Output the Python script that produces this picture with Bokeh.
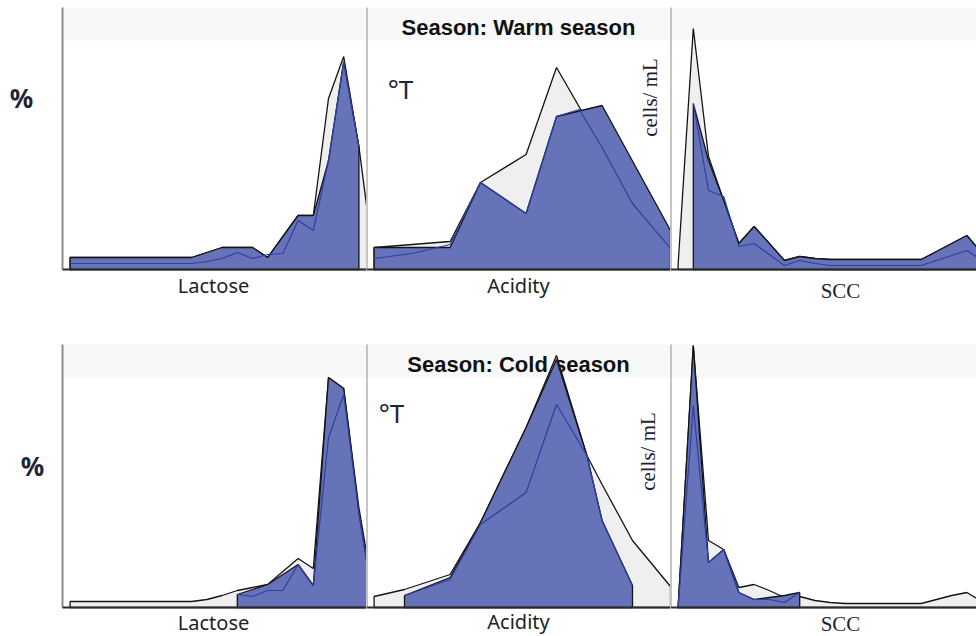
import math
from bokeh.plotting import figure
from bokeh.layouts import column, row
from bokeh.models import Label, BoxAnnotation, Range1d
from bokeh.embed import file_html
from bokeh.resources import INLINE

# ---------------- data ----------------
# Lactose (bins)
lactose_bins_all = list(range(21))
warm_lactose_all = [1.2, 1.2, 1.2, 1.2, 1.2, 1.2, 1.2, 1.2, 1.2, 1.7, 2.2,
                    2.2, 2.2, 1.2, 3.3, 5.4, 5.4, 17.1, 21.3, 12.3, 0.6]
warm_lactose_grp_bins = list(range(20))
warm_lactose_grp = [1.2, 1.2, 1.2, 1.2, 1.2, 1.2, 1.2, 1.2, 1.2, 1.7, 2.2,
                    2.2, 2.2, 1.2, 3.3, 5.4, 5.4, 10.9, 20.8, 12.3]
warm_lactose_line = [0.6, 0.6, 0.6, 0.6, 0.6, 0.6, 0.6, 0.6, 0.6, 0.8, 1.1,
                     1.7, 1.1, 1.5, 1.6, 4.9, 3.9, 10.9, 20.8, 12.3]

cold_lactose_all = [0.6, 0.6, 0.6, 0.6, 0.6, 0.6, 0.6, 0.6, 0.6, 0.8, 1.2,
                    1.7, 2.0, 2.3, 3.6, 4.9, 3.9, 23.0, 21.9, 10.0, 1.0]
cold_lactose_grp_bins = list(range(11, 21))
cold_lactose_grp = [1.3, 1.8, 2.3, 3.3, 4.3, 2.2, 23.0, 21.9, 9.5, 0.0]
cold_lactose_line = [1.3, 1.1, 1.7, 1.7, 4.3, 2.2, 17.0, 21.3, 9.5, 0.0]

# Acidity (°T positions)
warm_acid_x_all = [1, 11, 15, 21, 25, 31, 40]
warm_acid_all = [2.2, 2.8, 8.7, 11.5, 20.2, 12.3, 3.9]
warm_acid_x_grp = [1, 11, 15, 21, 25, 31, 40]
warm_acid_grp = [2.2, 2.2, 8.7, 5.6, 15.3, 16.4, 3.9]
warm_acid_x_line = [1, 6, 11, 15, 21, 25, 28, 31, 35, 40]
warm_acid_line = [1.1, 1.6, 2.5, 8.7, 5.6, 15.3, 16.0, 12.2, 6.6, 2.1]

cold_acid_x_all = [1, 5, 11, 15, 21, 25, 29, 31, 35, 40]
cold_acid_all = [1.1, 1.8, 3.3, 8.5, 18.0, 25.2, 15.2, 12.3, 6.7, 2.1]
cold_acid_x_grp = [5, 11, 15, 21, 25, 29, 31, 35]
cold_acid_grp = [1.2, 3.0, 8.5, 18.0, 24.8, 15.2, 8.7, 2.2]
cold_acid_line = [1.2, 2.8, 8.3, 11.5, 20.3, 15.2, 8.7, 2.2]

# SCC (bins)
scc_bins_all = list(range(21))
warm_scc_all = [0.5, 24.1, 11.3, 6.9, 2.6, 4.3, 2.6, 0.9, 1.3, 1.1, 1.0,
                1.0, 1.0, 1.0, 1.0, 1.0, 1.0, 1.8, 2.6, 3.4, 1.6]
warm_scc_grp_bins = list(range(1, 21))
warm_scc_grp = [16.6, 10.9, 6.9, 2.6, 4.3, 2.6, 0.9, 1.3, 1.1, 1.0,
                1.0, 1.0, 1.0, 1.0, 1.0, 1.0, 1.8, 2.6, 3.4, 1.6]
warm_scc_line = [16.6, 7.9, 7.3, 2.3, 2.6, 1.5, 0.4, 0.9, 0.6, 0.4,
                 0.4, 0.4, 0.4, 0.4, 0.4, 0.4, 0.9, 1.4, 1.9, 0.9]

cold_scc_all = [0.0, 26.2, 6.7, 5.8, 2.0, 2.3, 1.7, 1.0, 1.1, 0.7, 0.5,
                0.4, 0.4, 0.4, 0.4, 0.4, 0.4, 0.8, 1.2, 1.5, 0.6]
cold_scc_grp_bins = list(range(0, 9))
cold_scc_grp = [0.0, 26.2, 4.5, 5.8, 1.5, 0.8, 1.0, 1.2, 1.5]
cold_scc_line = [0.0, 20.2, 4.5, 5.8, 1.5, 0.8, 0.8, 0.5, 1.5]

seasons = ["Warm season", "Cold season"]
variables = ["Lactose", "Acidity", "SCC"]
units = ["%", "°T", "cells/ mL"]

# ---------------- styling / layout ----------------
GREY_FILL = "#efefef"
BLUE_FILL = "#6673b9"
BLUE_LINE = "#2f3f9f"
OUTLINE = "#141414"
TXT_DARK = "#1d2535"

PX_PER_UNIT_Y = 10.0       # pixels per value unit
BIN_PX = 15.2              # pixels per bin (Lactose, SCC)
ACID_PX = 7.6              # pixels per acidity step
ROW_H = 318
COL_W = [366, 304, 306]
PANEL_LEFT_PAD = 62        # space left of the first panel (for the unit label)


def make_fig(width, xr, yr):
    p = figure(width=width, height=ROW_H, x_range=xr, y_range=yr,
               x_axis_type=None, y_axis_type=None, toolbar_location=None,
               output_backend="svg", min_border=0)
    p.outline_line_color = None
    p.background_fill_color = "white"
    p.border_fill_color = "white"
    return p


def decorate(p, x0, x1, top, strip_bottom):
    p.add_layout(BoxAnnotation(left=x0, right=x1, bottom=strip_bottom, top=top,
                               fill_color="#f8f8f8", fill_alpha=1, line_color=None,
                               level="underlay"))


def add_series(p, xa, ya, xg, yg, xl, yl):
    for xs, ys, col in ((xa, ya, GREY_FILL), (xg, yg, BLUE_FILL)):
        px = [xs[0]] + list(xs) + [xs[-1]]
        py = [0] + list(ys) + [0]
        p.patch(px, py, fill_color=col, line_color=OUTLINE, line_width=1.3)
    p.line(xl, yl, line_color=BLUE_LINE, line_width=1.2)


def frame_lines(p, x0, x1, top):
    p.segment(x0=[x0], y0=[0], x1=[x0], y1=[top], line_color="#8c8c8c", line_width=2)
    p.segment(x0=[x0], y0=[0], x1=[x1], y1=[0], line_color="#2b2b2b", line_width=2)


def lab(p, text, x, y, size, font="Noto Sans", style="normal", color="#222222",
        angle=0.0, level="annotation"):
    p.add_layout(Label(x=x, y=y, x_units="screen", y_units="screen", text=text,
                       text_font=font, text_font_size=f"{size}px", text_font_style=style,
                       text_color=color, text_align="center", text_baseline="middle",
                       angle=angle, level=level))


specs = [
    dict(base=269, top_px=7, strip_px=40,
         lac=(lactose_bins_all, warm_lactose_all, warm_lactose_grp_bins, warm_lactose_grp,
              warm_lactose_grp_bins, warm_lactose_line),
         acid=(warm_acid_x_all, warm_acid_all, warm_acid_x_grp, warm_acid_grp,
               warm_acid_x_line, warm_acid_line),
         scc=(scc_bins_all, warm_scc_all, warm_scc_grp_bins, warm_scc_grp,
              warm_scc_grp_bins, warm_scc_line),
         pct=(21, 97), deg=(400, 88), cells=(649, 97), title=(518, 27),
         lac_lbl=(213, 285), acid_lbl=(518, 285), scc_lbl=(840, 290)),
    dict(base=607 - ROW_H, top_px=344 - ROW_H, strip_px=377 - ROW_H,
         lac=(lactose_bins_all, cold_lactose_all, cold_lactose_grp_bins, cold_lactose_grp,
              cold_lactose_grp_bins, cold_lactose_line),
         acid=(cold_acid_x_all, cold_acid_all, cold_acid_x_grp, cold_acid_grp,
               cold_acid_x_grp, cold_acid_line),
         scc=(scc_bins_all, cold_scc_all, cold_scc_grp_bins, cold_scc_grp,
              cold_scc_grp_bins, cold_scc_line),
         pct=(32, 465 - ROW_H), deg=(391, 412 - ROW_H), cells=(647, 451 - ROW_H),
         title=(518, 364 - ROW_H),
         lac_lbl=(213, 622 - ROW_H), acid_lbl=(518, 621 - ROW_H), scc_lbl=(840, 623 - ROW_H)),
]

rows = []
for si, s in enumerate(specs):
    base = s["base"]
    y_lo = (base - ROW_H) / PX_PER_UNIT_Y
    y_hi = base / PX_PER_UNIT_Y
    top = (base - s["top_px"]) / PX_PER_UNIT_Y
    strip_bottom = (base - s["strip_px"]) / PX_PER_UNIT_Y

    lac_x0 = -0.5 - PANEL_LEFT_PAD / BIN_PX
    lac_x1 = -0.5 + (COL_W[0] - PANEL_LEFT_PAD) / BIN_PX
    scc_x1 = -0.5 + COL_W[2] / BIN_PX
    acid_x1 = COL_W[1] / ACID_PX

    f1 = make_fig(COL_W[0], Range1d(lac_x0, lac_x1), Range1d(y_lo, y_hi))
    f2 = make_fig(COL_W[1], Range1d(0, acid_x1), Range1d(y_lo, y_hi))
    f3 = make_fig(COL_W[2], Range1d(-0.5, scc_x1), Range1d(y_lo, y_hi))

    decorate(f1, -0.5, None, top, strip_bottom)
    decorate(f2, None, None, top, strip_bottom)
    decorate(f3, None, None, top, strip_bottom)

    # facet title (under the data, as in the reference)
    tx, ty = s["title"]
    lab(f2, "Season: " + seasons[si], tx - COL_W[0], ROW_H - ty, 22,
        font="Liberation Sans", style="bold", color="#111111", level="underlay")

    add_series(f1, *s["lac"])
    add_series(f2, *s["acid"])
    add_series(f3, *s["scc"])

    frame_lines(f1, -0.5, lac_x1, top)
    frame_lines(f2, 0, acid_x1, top)
    frame_lines(f3, -0.5, scc_x1, top)

    x, y = s["lac_lbl"]
    lab(f1, variables[0], x, ROW_H - y, 20)
    x, y = s["acid_lbl"]
    lab(f2, variables[1], x - COL_W[0], ROW_H - y, 20)
    x, y = s["scc_lbl"]
    lab(f3, variables[2], x - COL_W[0] - COL_W[1], ROW_H - y, 21,
        font="Liberation Serif", color=TXT_DARK)

    x, y = s["pct"]
    lab(f1, units[0], x, ROW_H - y, 26, style="bold", color=TXT_DARK)
    x, y = s["deg"]
    lab(f2, units[1], x - COL_W[0], ROW_H - y, 26, color=TXT_DARK)
    x, y = s["cells"]
    lab(f2, units[2], x - COL_W[0], ROW_H - y, 21, font="Liberation Serif",
        color=TXT_DARK, angle=math.pi / 2)

    rows.append(row(f1, f2, f3))

layout = column(*rows)
open("out.html", "w").write(file_html(layout, INLINE))
